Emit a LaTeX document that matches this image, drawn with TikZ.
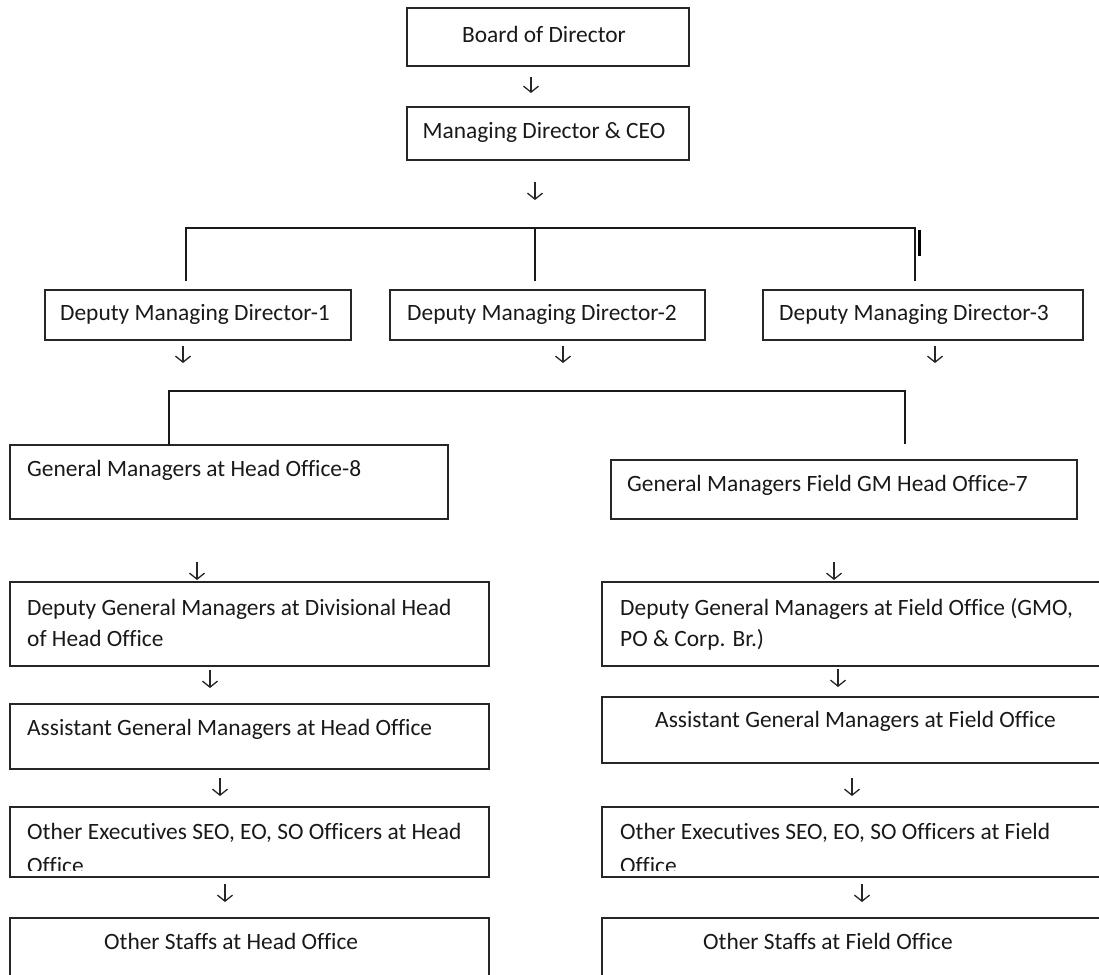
\documentclass[tikz,border=0pt]{standalone}
\usepackage{fontspec}
\setmainfont{Carlito}[RawFeature={-liga}]
\usetikzlibrary{arrows.meta,calc}
\begin{document}
\begin{tikzpicture}[x=1pt,y=-1pt,
  box/.style={draw=black!85, line width=1.4pt, inner sep=0pt, outer sep=0pt, anchor=north west},
  txt/.style={inner sep=0pt, font=\fontsize{23.4}{28}\selectfont, text=black!90},
  link/.style={draw=black!90, line width=1.4pt},
  arr/.style={draw=black!85, line width=1.3pt, -{Straight Barb[length=6pt,width=15pt]}}
]
\useasboundingbox (0,0) rectangle (1099,974);
\clip (0,0) rectangle (1099,974);

% boxes
\node[box, minimum width=282pt, minimum height=58pt] (bod) at (407,8) {};
\node[box, minimum width=282pt, minimum height=53pt] (md) at (407,107) {};
\node[box, minimum width=306pt, minimum height=50pt] (dmd1) at (45,290) {};
\node[box, minimum width=315pt, minimum height=50pt] (dmd2) at (390,290) {};
\node[box, minimum width=320pt, minimum height=50pt] (dmd3) at (763,290) {};
\node[box, minimum width=438pt, minimum height=74pt] (gmho) at (10,445) {};
\node[box, minimum width=466pt, minimum height=59pt] (gmf) at (611,460) {};
\node[box, minimum width=479pt, minimum height=84pt] (dgmho) at (10,582) {};
\node[box, minimum width=520pt, minimum height=84pt] (dgmf) at (602,582) {};
\node[box, minimum width=479pt, minimum height=65pt] (agmho) at (10,704) {};
\node[box, minimum width=520pt, minimum height=66pt] (agmf) at (602,697) {};
\node[box, minimum width=479pt, minimum height=70pt] (oeho) at (10,807) {};
\node[box, minimum width=520pt, minimum height=70pt] (oef) at (602,807) {};
\node[box, minimum width=479pt, minimum height=90pt] (osho) at (10,918) {};
\node[box, minimum width=520pt, minimum height=90pt] (osf) at (602,918) {};

% texts
\node[txt, anchor=base] (bodt) at (544,42) {Board of Director};
\node[txt, anchor=base] (mdt) at (544,138) {Managing Director \& CEO};
\node[txt, anchor=base west] (dmd1t) at (60,320) {Deputy Managing Director-1};
\node[txt, anchor=base west] (dmd2t) at (407,320) {Deputy Managing Director-2};
\node[txt, anchor=base west] (dmd3t) at (779,320) {Deputy Managing Director-3};
\node[txt, anchor=base west] (gmhot) at (27,476) {General Managers at Head Office-8};
\node[txt, anchor=base west] (gmft) at (627,491) {General Managers Field GM Head Office-7};
\node[txt, anchor=base west] (dgmhot1) at (27,615) {Deputy General Managers at Divisional Head};
\node[txt, anchor=base west] (dgmhot2) at (27,646) {of Head Office};
\node[txt, anchor=base west] (dgmft1) at (620,615) {Deputy General Managers at Field Office (GMO,};
\node[txt, anchor=base west] (dgmft2) at (620,646) {PO \& Corp. Br.)};
\node[txt, anchor=base west] (agmhot) at (27,735) {Assistant General Managers at Head Office};
\node[txt, anchor=base west] (agmft) at (655,727) {Assistant General Managers at Field Office};
\node[txt, anchor=base west] (oehot1) at (27,839) {Other Executives SEO, EO, SO Officers at Head};
\node[txt, anchor=base west] (oeft1) at (620,839) {Other Executives SEO, EO, SO Officers at Field};
\begin{scope}
  \clip (0,800) rectangle (1099,870);
  \node[txt, anchor=base west] (oehot2) at (27,873) {Office};
  \node[txt, anchor=base west] (oeft2) at (620,873) {Office};
\end{scope}
\node[txt, anchor=base west] (oshot) at (104,949) {Other Staffs at Head Office};
\node[txt, anchor=base west] (osft) at (703,949) {Other Staffs at Field Office};

% bracket under MD
\coordinate (hl) at (186,228); \coordinate (hm) at (535,228); \coordinate (hr) at (915,228);
\coordinate (d1) at (186,281); \coordinate (d2) at (535,281); \coordinate (d3) at (915,281);
\draw[link] (d1) -- (hl) -- (hr) -- (d3);
\draw[link] (hm) -- (d2);
\coordinate (bar1) at (919,230); \coordinate (bar2) at (919,256);
\draw[black, line width=3pt] (bar1) -- (bar2);

% bracket above GMs
\coordinate (gl) at (169,391); \coordinate (gr) at (905,391);
\coordinate (g1) at (169,445); \coordinate (g2) at (905,444);
\draw[link] (g1) -- (gl) -- (gr) -- (g2);

% arrows
\foreach \n/\x/\ya/\yb in {a1/531/77/93, a2/535/182/200, a3/183/346/363, a4/563/346/363, a5/935/346/363,
  a6/197/562/580, a7/834/562/580, a8/210/670/688, a9/838/669/687, a10/220/778/796, a11/852/778/796,
  a12/225/884/902, a13/862/884/902}{
  \coordinate (\n t) at (\x,\ya);
  \coordinate (\n b) at (\x,\yb);
  \draw[arr] (\n t) -- (\n b);
}
\end{tikzpicture}
\end{document}
